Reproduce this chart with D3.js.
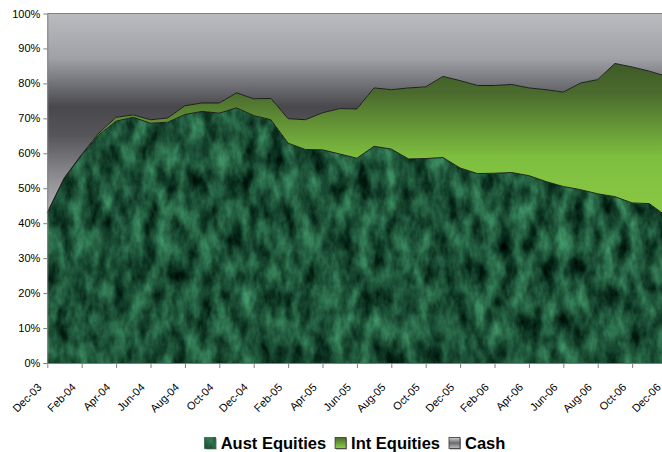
<!DOCTYPE html>
<html>
<head>
<meta charset="utf-8">
<script src="https://cdn.jsdelivr.net/npm/d3@7"></script>
<style>
  body { margin: 0; background: #fff; }
  svg { display: block; font-family: "Liberation Sans", Arial, sans-serif; }
</style>
</head>
<body>
<svg id="chart" width="662" height="452"></svg>
<script>
/* ── Data (percent of portfolio) ───────────────────────────── */
const months = [
  'Dec-03','Jan-04','Feb-04','Mar-04','Apr-04','May-04','Jun-04','Jul-04','Aug-04','Sep-04','Oct-04','Nov-04',
  'Dec-04','Jan-05','Feb-05','Mar-05','Apr-05','May-05','Jun-05','Jul-05','Aug-05','Sep-05','Oct-05','Nov-05',
  'Dec-05','Jan-06','Feb-06','Mar-06','Apr-06','May-06','Jun-06','Jul-06','Aug-06','Sep-06','Oct-06','Nov-06','Dec-06'
];
const austEquities = [43, 53, 59.5, 65.3, 69.2, 70.3, 68.6, 68.9, 71.1, 72, 71.5, 73,
  70.8, 69.6, 62.9, 61.1, 61, 59.8, 58.6, 62, 61.2, 58.4, 58.5, 58.8,
  55.8, 54.2, 54.3, 54.5, 53.6, 51.9, 50.5, 49.6, 48.4, 47.6, 45.8, 45.6, 42];
const intEquities = [0, 0, 0.2, 0.5, 1.1, 0.7, 1.0, 1.2, 2.5, 2.4, 2.9, 4.3,
  4.8, 6.1, 7.0, 8.5, 10.6, 13.0, 14.1, 16.7, 17.0, 20.3, 20.5, 23.2,
  25.0, 25.2, 25.1, 25.2, 25.1, 26.3, 27.0, 30.5, 32.7, 38.1, 38.9, 37.9, 40.0];
const cash = [57, 47, 40.3, 34.2, 29.7, 29, 30.4, 29.9, 26.4, 25.6, 25.6, 22.7,
  24.4, 24.3, 30.1, 30.4, 28.4, 27.2, 27.3, 21.3, 21.8, 21.3, 21, 18,
  19.2, 20.6, 20.6, 20.3, 21.3, 21.8, 22.5, 19.9, 18.9, 14.3, 15.3, 16.5, 18];
const seriesNames = ['Aust Equities', 'Int Equities', 'Cash'];
const xTickLabels = months.filter((m, i) => i % 2 === 0);
const yTicks = [0, 0.1, 0.2, 0.3, 0.4, 0.5, 0.6, 0.7, 0.8, 0.9, 1];

/* ── Layout ───────────────────────────────────────────────── */
const plot = { left: 47.3, right: 666.5, top: 13.5, bottom: 363 };

const svg = d3.select('#chart');
const defs = svg.append('defs');

const rows = months.map((m, i) => ({
  month: m,
  'Aust Equities': austEquities[i],
  'Int Equities': intEquities[i],
  'Cash': cash[i]
}));

const stack = d3.stack().keys(seriesNames).offset(d3.stackOffsetExpand);
const layers = stack(rows);

const x = d3.scalePoint().domain(months).range([plot.left, plot.right]);
const y = d3.scaleLinear().domain([0, 1]).range([plot.bottom, plot.top]);

/* ── Fills: marble texture, green and grey gradients ──────── */
const marble = defs.append('filter')
  .attr('id', 'marble')
  .attr('filterUnits', 'userSpaceOnUse')
  .attr('x', 0).attr('y', 0).attr('width', 700).attr('height', 460)
  .attr('color-interpolation-filters', 'sRGB');
marble.append('feTurbulence')
  .attr('type', 'fractalNoise')
  .attr('baseFrequency', '0.07 0.035')
  .attr('numOctaves', 4)
  .attr('seed', 7)
  .attr('result', 'noise');
marble.append('feColorMatrix')
  .attr('in', 'noise')
  .attr('type', 'matrix')
  .attr('values', [
    '0.38 0 0 0 -0.075',
    '0.72 0 0 0 -0.035',
    '0.52 0 0 0 -0.04',
    '0 0 0 0 1'
  ].join(' '))
  .attr('result', 'tint');
marble.append('feComposite')
  .attr('in', 'tint')
  .attr('in2', 'SourceGraphic')
  .attr('operator', 'in');

function vGradient(id, y1, y2, stops, units) {
  const g = defs.append('linearGradient')
    .attr('id', id)
    .attr('gradientUnits', units || 'userSpaceOnUse')
    .attr('x1', 0).attr('x2', 0).attr('y1', y1).attr('y2', y2);
  stops.forEach(([o, c]) => g.append('stop').attr('offset', o).attr('stop-color', c));
}
vGradient('cashGrad', y(1), y(0.42), [[0, '#babbbf'], [0.22, '#a0a1a6'], [0.46, '#48484d'], [0.6, '#55555a'], [0.85, '#97979c'], [1, '#b3b3b7']]);
vGradient('intGrad', y(0.86), y(0.42), [[0, '#3e5a26'], [0.2, '#4a6b2e'], [0.62, '#7fbf3f'], [1, '#89c944']]);
vGradient('cashSwatch', 0, 1, [[0, '#d0d0d4'], [0.5, '#6a6a70'], [1, '#c0c0c4']], 'objectBoundingBox');
vGradient('intSwatch', 0, 1, [[0, '#4a6b2e'], [1, '#8fd048']], 'objectBoundingBox');

const fills = {
  'Aust Equities': '#1f5b3f',
  'Int Equities': 'url(#intGrad)',
  'Cash': 'url(#cashGrad)'
};

/* ── Areas ────────────────────────────────────────────────── */
const area = d3.area()
  .x(d => x(d.data.month))
  .y0(d => y(d[0]))
  .y1(d => y(d[1]));

const topLine = d3.line()
  .x(d => x(d.data.month))
  .y(d => y(d[1]));

const g = svg.append('g');

g.selectAll('path.layer')
  .data(layers)
  .join('path')
  .attr('class', 'layer')
  .attr('d', area)
  .attr('fill', d => fills[d.key])
  .attr('filter', d => d.key === 'Aust Equities' ? 'url(#marble)' : null);

// dark borders along the series tops
g.selectAll('path.edge')
  .data(layers.slice(0, 2))
  .join('path')
  .attr('class', 'edge')
  .attr('d', topLine)
  .attr('fill', 'none')
  .attr('stroke', '#1b1f1b')
  .attr('stroke-width', 1);

/* ── Plot frame & axes ────────────────────────────────────── */
g.append('line')
  .attr('x1', plot.left).attr('x2', plot.right)
  .attr('y1', plot.top).attr('y2', plot.top)
  .attr('stroke', '#808080');

const yAxis = g.append('g')
  .attr('transform', `translate(${plot.left},0)`)
  .call(d3.axisLeft(y).tickValues(yTicks).tickFormat(d3.format('.0%')).tickSize(4).tickPadding(3).tickSizeOuter(0));
yAxis.select('.domain').attr('stroke', '#808080');
yAxis.selectAll('.tick line').attr('stroke', '#808080');
yAxis.selectAll('.tick text')
  .attr('font-size', '11px')
  .attr('fill', '#000')
  .attr('font-family', '"Liberation Sans", Arial, sans-serif');

const xAxis = g.append('g')
  .attr('transform', `translate(0,${plot.bottom})`)
  .call(d3.axisBottom(x).tickValues(xTickLabels).tickSize(5).tickSizeOuter(0));
xAxis.select('.domain').attr('stroke', '#808080');
xAxis.selectAll('.tick line').attr('stroke', '#808080');
xAxis.selectAll('.tick text')
  .attr('font-size', '11px')
  .attr('fill', '#000')
  .attr('font-family', '"Liberation Sans", Arial, sans-serif')
  .attr('text-anchor', 'end')
  .attr('dy', null)
  .attr('y', null)
  .attr('transform', 'translate(-5.5,25) rotate(-45)');

/* ── Legend ───────────────────────────────────────────────── */
const swatchFill = {
  'Aust Equities': '#1f5b3f',
  'Int Equities': 'url(#intSwatch)',
  'Cash': 'url(#cashSwatch)'
};
const legend = svg.append('g').attr('font-size', '16.5px').attr('font-weight', 'bold');
const items = legend.selectAll('g.item')
  .data(seriesNames)
  .join('g')
  .attr('class', 'item');

items.append('rect')
  .attr('x', 1).attr('y', 1).attr('width', 11).attr('height', 11)
  .attr('fill', '#9a9a9a');
items.append('rect')
  .attr('width', 11).attr('height', 11)
  .attr('fill', d => swatchFill[d])
  .attr('filter', d => d === 'Aust Equities' ? 'url(#marble)' : null)
  .attr('stroke', '#333').attr('stroke-width', 0.8);
items.append('text')
  .attr('x', 16).attr('y', 11)
  .attr('fill', '#000')
  .text(d => d);

const widths = [];
items.each(function () {
  widths.push(16 + d3.select(this).select('text').node().getComputedTextLength());
});
const gap = 9;
const total = d3.sum(widths) + gap * (widths.length - 1);
let startX = 355 - total / 2;
items.attr('transform', (d, i) => {
  const tx = startX;
  startX += widths[i] + gap;
  return `translate(${tx},437.5)`;
});
</script>
</body>
</html>
